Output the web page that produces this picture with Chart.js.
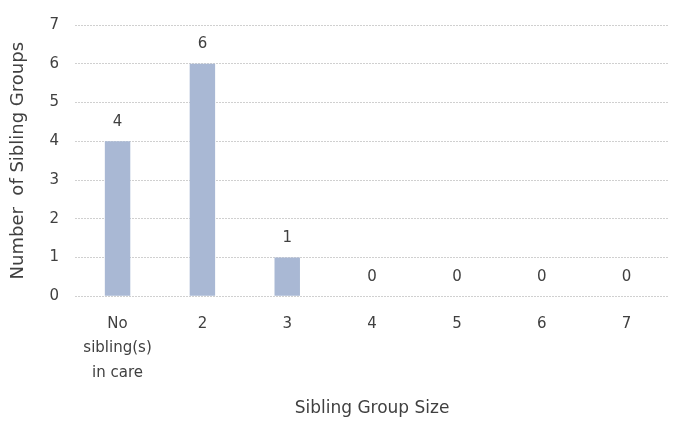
<!DOCTYPE html>
<html>
<head>
<meta charset="utf-8">
<script src="https://cdn.jsdelivr.net/npm/chart.js@4"></script>
<style>
  html, body { margin: 0; padding: 0; background: #fff; }
  #wrap { width: 673px; height: 421px; }
</style>
</head>
<body>
<div id="wrap"><canvas id="myChart"></canvas></div>
<script>
var categories = [["No", "sibling(s)", "in care"], "2", "3", "4", "5", "6", "7"];
var groupCounts = [4, 6, 1, 0, 0, 0, 0];
var yTicks = [0, 1, 2, 3, 4, 5, 6, 7];

var fontFamily = "'DejaVu Sans', sans-serif";

// value labels above each bar
var barLabels = {
    id: "barLabels",
    afterDatasetsDraw: function (chart) {
        var ctx = chart.ctx;
        var meta = chart.getDatasetMeta(0);
        ctx.save();
        ctx.font = "15px " + fontFamily;
        ctx.fillStyle = "#404040";
        ctx.textAlign = "center";
        ctx.textBaseline = "bottom";
        meta.data.forEach(function (bar, i) {
            ctx.fillText(groupCounts[i], bar.x, bar.y - 12);
        });
        ctx.restore();
    }
};

document.addEventListener("DOMContentLoaded", function () {
    var ctx = document.getElementById("myChart").getContext("2d");
    new Chart(ctx, {
        type: "bar",
        data: {
            labels: categories,
            datasets: [{
                data: groupCounts,
                backgroundColor: "#a9b8d4",
                barPercentage: 0.3,
                categoryPercentage: 1
            }]
        },
        options: {
            responsive: true,
            maintainAspectRatio: false,
            animation: false,
            layout: { padding: { top: 3, right: 4, left: 8, bottom: 2 } },
            plugins: {
                legend: { display: false },
                tooltip: { enabled: false }
            },
            scales: {
                x: {
                    border: { display: false },
                    grid: { display: false },
                    ticks: {
                        color: "#404040",
                        font: { family: fontFamily, size: 15, lineHeight: 1.65 },
                        maxRotation: 0,
                        padding: 7
                    },
                    title: {
                        display: true,
                        text: "Sibling Group Size",
                        color: "#404040",
                        font: { family: fontFamily, size: 17 },
                        padding: { top: 6, bottom: 0 }
                    }
                },
                y: {
                    min: 0,
                    max: 7,
                    afterBuildTicks: function (axis) {
                        axis.ticks = yTicks.map(function (v) { return { value: v }; });
                    },
                    border: { display: false, dash: [2, 1] },
                    grid: { color: "#d0d0d0", lineWidth: 1, drawTicks: false },
                    ticks: {
                        color: "#404040",
                        font: { family: fontFamily, size: 15 },
                        padding: 16
                    },
                    title: {
                        display: true,
                        text: "Number  of Sibling Groups",
                        color: "#404040",
                        font: { family: fontFamily, size: 18 },
                        padding: { top: 0, bottom: 4 }
                    }
                }
            }
        },
        plugins: [barLabels]
    });
});
</script>
</body>
</html>
